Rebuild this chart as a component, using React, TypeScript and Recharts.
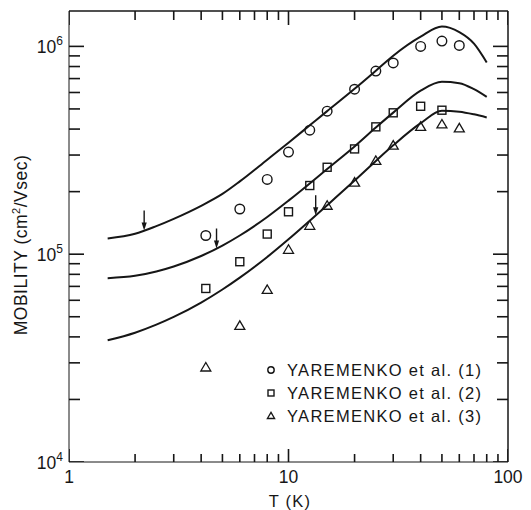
import React from 'react';
import { ComposedChart, Line, Scatter, XAxis, YAxis, ReferenceLine } from 'recharts';

const W = 531;
const H = 510;
const MARGIN = { top: 11, right: 23, bottom: 47, left: 68 };
const FONT = '"Liberation Sans", Arial, Helvetica, sans-serif';
const INK = '#161616';

// theory curves, sampled in T (K)
const CURVE_T = [1.5, 2, 2.5, 3, 4, 5, 6, 8, 10, 12.5, 15, 20, 25, 30, 40, 50, 60, 70, 80];
const CURVE_1 = [1.19e5, 1.253e5, 1.365e5, 1.48e5, 1.71e5, 1.95e5, 2.24e5, 2.85e5, 3.44e5, 4.17e5, 4.88e5, 6.25e5, 7.64e5, 9.02e5, 1.114e6, 1.245e6, 1.17e6, 1.03e6, 8.36e5];
const CURVE_2 = [7.67e4, 7.87e4, 8.26e4, 8.73e4, 9.8e4, 1.1e5, 1.23e5, 1.51e5, 1.81e5, 2.19e5, 2.57e5, 3.3e5, 4.07e5, 4.8e5, 6.12e5, 6.75e5, 6.65e5, 6.22e5, 5.71e5];
const CURVE_3 = [3.85e4, 4.19e4, 4.58e4, 4.99e4, 5.85e4, 6.76e4, 7.71e4, 9.7e4, 1.18e5, 1.45e5, 1.72e5, 2.26e5, 2.81e5, 3.34e5, 4.27e5, 4.9e5, 4.85e5, 4.71e5, 4.55e5];

// measured points (Yaremenko et al.)
const T_1 = [4.2, 6, 8, 10, 12.5, 15, 20, 25, 30, 40, 50, 60];
const MU_1 = [1.23e5, 1.65e5, 2.29e5, 3.1e5, 3.95e5, 4.88e5, 6.22e5, 7.61e5, 8.32e5, 1.0e6, 1.06e6, 1.01e6];
const T_2 = [4.2, 6, 8, 10, 12.5, 15, 20, 25, 30, 40, 50];
const MU_2 = [6.84e4, 9.2e4, 1.25e5, 1.6e5, 2.14e5, 2.62e5, 3.21e5, 4.1e5, 4.79e5, 5.15e5, 4.93e5];
const T_3 = [4.2, 6, 8, 10, 12.5, 15, 20, 25, 30, 40, 50, 60];
const MU_3 = [2.85e4, 4.52e4, 6.73e4, 1.05e5, 1.37e5, 1.71e5, 2.21e5, 2.81e5, 3.33e5, 4.1e5, 4.21e5, 4.03e5];

// arrows sitting on the curves
const ARROW_T = [2.2, 4.7, 13.3];
const ARROW_MU = [1.3e5, 1.065e5, 1.54e5];

const X_TICKS = [1, 2, 3, 4, 5, 6, 7, 8, 9, 10, 20, 30, 40, 50, 60, 70, 80, 90, 100];
const X_LABELED = [1, 10, 100];
const Y_TICKS = [1e4, 2e4, 3e4, 4e4, 5e4, 6e4, 7e4, 8e4, 9e4, 1e5, 2e5, 3e5, 4e5, 5e5, 6e5, 7e5, 8e5, 9e5, 1e6];
const Y_LABELED = [1e4, 1e5, 1e6];
const Y_EXP: Record<number, string> = { 10000: '4', 100000: '5', 1000000: '6' };
const X_MIN = 1;
const X_MAX = 100;
const Y_MIN = 1e4;
const Y_MAX = 1.48e6;

const LEGEND = ['YAREMENKO et al. (1)', 'YAREMENKO et al. (2)', 'YAREMENKO et al. (3)'];

const rows = (t: number[], mu: number[]) => t.map((T, i) => ({ T, mu: mu[i] }));
const curve1 = rows(CURVE_T, CURVE_1);
const curve2 = rows(CURVE_T, CURVE_2);
const curve3 = rows(CURVE_T, CURVE_3);
const pts1 = rows(T_1, MU_1);
const pts2 = rows(T_2, MU_2);
const pts3 = rows(T_3, MU_3);
const arrows = rows(ARROW_T, ARROW_MU);

// tick marks placed on the frame edges, drawn inward
const ticksBottom = X_TICKS.map((T) => ({ T, mu: Y_MIN }));
const ticksTop = X_TICKS.map((T) => ({ T, mu: Y_MAX }));
const ticksLeft = Y_TICKS.map((mu) => ({ T: X_MIN, mu }));
const ticksRight = Y_TICKS.map((mu) => ({ T: X_MAX, mu }));

const circle = (cx: number, cy: number, r = 4.8) => (
  <circle cx={cx} cy={cy} r={r} fill="none" stroke={INK} strokeWidth={1.4} />
);
const square = (cx: number, cy: number, s = 8) => (
  <rect x={cx - s / 2} y={cy - s / 2} width={s} height={s} fill="none" stroke={INK} strokeWidth={1.4} />
);
const triangle = (cx: number, cy: number, s = 5) => (
  <polygon
    points={`${cx},${cy - s} ${cx - s},${cy + s * 0.7} ${cx + s},${cy + s * 0.7}`}
    fill="none"
    stroke={INK}
    strokeWidth={1.3}
  />
);
const arrow = (cx: number, cy: number) => (
  <g>
    <line x1={cx} y1={cy - 20} x2={cx} y2={cy - 6} stroke={INK} strokeWidth={1.4} />
    <polygon points={`${cx - 2.6},${cy - 8} ${cx + 2.6},${cy - 8} ${cx},${cy}`} fill={INK} />
  </g>
);

const vTick = (dir: number, majorLen: number, minorLen: number) => (p: any) => {
  const len = X_LABELED.includes(p.payload.T) ? majorLen : minorLen;
  return <line x1={p.cx} y1={p.cy} x2={p.cx} y2={p.cy + dir * len} stroke={INK} strokeWidth={1.6} />;
};
const hTick = (dir: number) => (p: any) => {
  const len = Y_LABELED.includes(p.payload.mu) ? 15 : 11;
  return <line x1={p.cx} y1={p.cy} x2={p.cx + dir * len} y2={p.cy} stroke={INK} strokeWidth={1.6} />;
};

function XLabel(p: any) {
  const v = p.payload.value;
  if (!X_LABELED.includes(v)) return <g />;
  return (
    <text x={Number(p.x)} y={Number(p.y) + 21} textAnchor="middle" fontFamily={FONT} fontSize={17.5} fill={INK}>
      {v}
    </text>
  );
}

function YLabel(p: any) {
  const v = p.payload.value;
  if (!Y_LABELED.includes(v)) return <g />;
  return (
    <text x={Number(p.x) - 6} y={Number(p.y) + 6.5} textAnchor="end" fontFamily={FONT} fontSize={17.5} fill={INK}>
      <tspan>10</tspan>
      <tspan dy={-8} fontSize={12}>{Y_EXP[v]}</tspan>
    </text>
  );
}

export default function App() {
  const legendMarks = [circle, square, triangle];
  return (
    <div style={{ position: 'absolute', left: 0, top: 0, width: W, height: H, background: '#fff' }}>
      <svg
        width={W}
        height={H}
        style={{ position: 'absolute', left: 0, top: 0 }}
        fontFamily={FONT}
        fill={INK}
      >
        <text x={290} y={507} textAnchor="middle" fontSize={16.5} letterSpacing={1.2}>
          T (K)
        </text>
        <text
          transform="translate(27,245) rotate(-90)"
          textAnchor="middle"
          fontSize={17.5}
          letterSpacing={0.5}
        >
          MOBILITY (cm<tspan dy={-7} fontSize={11}>2</tspan>
          <tspan dy={7}>/Vsec)</tspan>
        </text>
        {LEGEND.map((label, i) => (
          <g key={label}>
            {legendMarks[i](271, 370 + i * 23, i === 0 ? 3.2 : i === 1 ? 6 : 3.6)}
            <text x={287} y={376 + i * 23} fontSize={16.5} letterSpacing={1.3}>
              {label}
            </text>
          </g>
        ))}
      </svg>
      <div style={{ position: 'absolute', left: 0, top: 0 }}>
        <ComposedChart width={W} height={H} margin={MARGIN}>
          <XAxis
            dataKey="T"
            type="number"
            scale="log"
            domain={[X_MIN, X_MAX]}
            ticks={X_TICKS}
            interval={0}
            allowDataOverflow
            height={1}
            tickSize={0}
            tickMargin={0}
            stroke={INK}
            tickLine={false}
            tick={XLabel}
          />
          <YAxis
            type="number"
            scale="log"
            domain={[Y_MIN, Y_MAX]}
            ticks={Y_TICKS}
            interval={0}
            allowDataOverflow
            width={1}
            tickSize={0}
            tickMargin={0}
            stroke={INK}
            tickLine={false}
            tick={YLabel}
          />
          <ReferenceLine y={Y_MAX} stroke={INK} strokeWidth={1.5} ifOverflow="visible" />
          <ReferenceLine x={X_MAX} stroke={INK} strokeWidth={1.5} ifOverflow="visible" />
          <Scatter data={ticksBottom} dataKey="mu" isAnimationActive={false} shape={vTick(-1, 13, 8)} />
          <Scatter data={ticksTop} dataKey="mu" isAnimationActive={false} shape={vTick(1, 14, 9)} />
          <Scatter data={ticksLeft} dataKey="mu" isAnimationActive={false} shape={hTick(1)} />
          <Scatter data={ticksRight} dataKey="mu" isAnimationActive={false} shape={hTick(-1)} />
          {[curve1, curve2, curve3].map((d, i) => (
            <Line
              key={i}
              data={d}
              dataKey="mu"
              type="monotone"
              stroke={INK}
              strokeWidth={2}
              dot={false}
              isAnimationActive={false}
            />
          ))}
          <Scatter data={pts1} dataKey="mu" isAnimationActive={false} shape={(p: any) => circle(p.cx, p.cy)} />
          <Scatter data={pts2} dataKey="mu" isAnimationActive={false} shape={(p: any) => square(p.cx, p.cy)} />
          <Scatter data={pts3} dataKey="mu" isAnimationActive={false} shape={(p: any) => triangle(p.cx, p.cy)} />
          <Scatter data={arrows} dataKey="mu" isAnimationActive={false} shape={(p: any) => arrow(p.cx, p.cy)} />
        </ComposedChart>
      </div>
    </div>
  );
}
